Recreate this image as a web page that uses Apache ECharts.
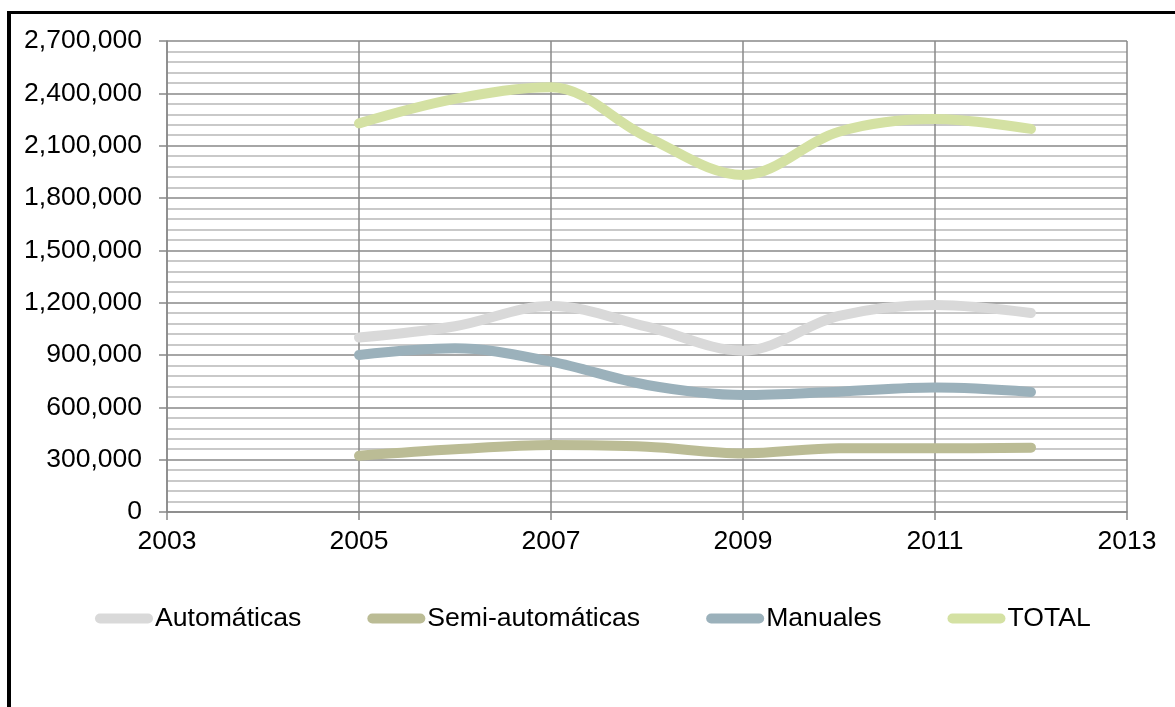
<!DOCTYPE html>
<html>
<head>
<meta charset="utf-8">
<script src="https://cdn.jsdelivr.net/npm/echarts@6/dist/echarts.min.js"></script>
<style>
  html, body { margin: 0; padding: 0; background: #fff; }
  #chart { width: 1175px; height: 707px; }
</style>
</head>
<body>
<div id="chart"></div>
<script>
// Yearly counts by transmission type
const years = [2005, 2006, 2007, 2008, 2009, 2010, 2011, 2012];
const automaticas = [1000000, 1065000, 1181000, 1062000, 925000, 1124000, 1187000, 1141000];
const semiAutomaticas = [323000, 360000, 384000, 374000, 336000, 365000, 365000, 369000];
const manuales = [900000, 938000, 862000, 728000, 671000, 690000, 713000, 688000];
const total = [2228000, 2368000, 2435000, 2150000, 1932000, 2180000, 2253000, 2196000];

const seriesNames = ['Automáticas', 'Semi-automáticas', 'Manuales', 'TOTAL'];
const seriesColors = ['#D9D9D9', '#BBBC95', '#9BB1BB', '#D4E1A3'];
const seriesValues = [automaticas, semiAutomaticas, manuales, total];

const xMin = 2003, xMax = 2013, xStep = 2;
const yMin = 0, yMax = 2700000, yStep = 300000;

const FONT = '"Liberation Sans", Arial, sans-serif';
const GRID_DARK = '#888888';
const GRID_LIGHT = '#B8B8B8';

const chart = echarts.init(document.getElementById('chart'), null, { renderer: 'canvas' });

// rounded bar used as the legend key
const pill = 'path://M5 0H53A5 5 0 0 1 53 10H5A5 5 0 0 1 5 0Z';

chart.setOption({
  animation: false,
  backgroundColor: '#fff',
  textStyle: { fontFamily: FONT },
  grid: { left: 167, right: 48, top: 41, bottom: 195, containLabel: false },
  legend: {
    left: 90,
    top: 600,
    itemWidth: 58,
    itemHeight: 10,
    itemGap: 66,
    icon: pill,
    textStyle: { fontSize: 26.6, color: '#000', fontFamily: FONT, padding: [0, 0, 0, -3] },
    data: seriesNames
  },
  xAxis: {
    type: 'value',
    min: xMin,
    max: xMax,
    interval: xStep,
    axisLine: { show: true, lineStyle: { color: GRID_DARK, width: 1.5 } },
    axisTick: { show: true, length: 8, lineStyle: { color: GRID_DARK, width: 1.5 } },
    axisLabel: {
      fontSize: 26.5, color: '#000', fontFamily: FONT, margin: 16,
      formatter: v => String(v)
    },
    splitLine: { show: true, lineStyle: { color: GRID_DARK, width: 1.5 } }
  },
  yAxis: {
    type: 'value',
    min: yMin,
    max: yMax,
    interval: yStep,
    axisLine: { show: true, lineStyle: { color: GRID_DARK, width: 1.5 } },
    axisTick: { show: true, length: 8, lineStyle: { color: GRID_DARK, width: 1.5 } },
    axisLabel: {
      fontSize: 26.5, color: '#000', fontFamily: FONT, margin: 25,
      formatter: v => v.toLocaleString('en-US')
    },
    splitLine: { show: true, lineStyle: { color: GRID_DARK, width: 1.5 } },
    minorTick: { show: false, splitNumber: 5 },
    minorSplitLine: { show: true, lineStyle: { color: GRID_LIGHT, width: 1.5 } }
  },
  series: seriesNames.map((name, i) => ({
    name,
    type: 'line',
    smooth: 0.35,
    showSymbol: false,
    symbol: 'none',
    color: seriesColors[i],
    lineStyle: { width: 10, color: seriesColors[i], cap: 'round', join: 'round' },
    data: years.map((y, k) => [y, seriesValues[i][k]])
  })),
  graphic: [
    { type: 'line', silent: true, shape: { x1: 7, y1: 12.5, x2: 1180, y2: 12.5 },
      style: { stroke: '#000', lineWidth: 3 } },
    { type: 'line', silent: true, shape: { x1: 9, y1: 11, x2: 9, y2: 710 },
      style: { stroke: '#000', lineWidth: 4 } }
  ]
});
</script>
</body>
</html>
